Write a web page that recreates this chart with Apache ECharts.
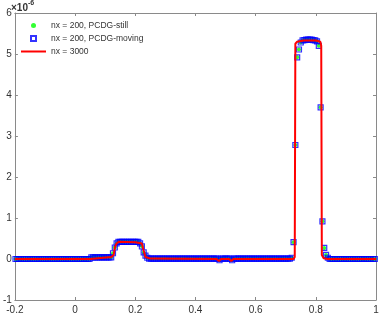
<!DOCTYPE html>
<html>
<head>
<meta charset="utf-8">
<script src="https://cdn.jsdelivr.net/npm/echarts@6/dist/echarts.min.js"></script>
<style>
  html, body { margin: 0; padding: 0; background: #fff; }
  #main { width: 382px; height: 315px; }
</style>
</head>
<body>
<div id="main"></div>
<script>
// nx = 200 mesh (cell centres) and solution values, in units of 1e-6
var meshStart = -0.198;
var meshStep = 0.006;
var pcdgMoving = [
  0, 0, 0, 0, 0, 0, 0, 0, 0, 0,
  0, 0, 0, 0, 0, 0, 0, 0, 0, 0,
  0, 0, 0, 0, 0, 0, 0, 0, 0, 0,
  0, 0, 0, 0, 0, 0, 0, 0, 0, 0,
  0, 0, 0.04, 0.04, 0.04, 0.04, 0.04, 0.04, 0.04, 0.04,
  0.04, 0.04, 0.04, 0.04, 0.14, 0.28, 0.38, 0.42, 0.42, 0.42,
  0.42, 0.42, 0.42, 0.42, 0.42, 0.42, 0.42, 0.42, 0.42, 0.38,
  0.31, 0.16, 0.08, 0.03, 0.01, 0.01, 0.01, 0.01, 0.01, 0.01,
  0.01, 0.01, 0.01, 0.01, 0.01, 0.01, 0.01, 0.01, 0.01, 0.01,
  0.01, 0.01, 0.01, 0.01, 0.01, 0.01, 0.01, 0.01, 0.01, 0.01,
  0.01, 0.01, 0.01, 0.01, 0.01, 0.01, 0.01, 0.01, 0.01, 0.01,
  0.01, 0.01, 0.01, -0.03, 0.01, 0.01, 0.01, 0.01, 0.01, 0.01,
  -0.03, 0.01, 0.01, 0.01, 0.01, 0.01, 0.01, 0.01, 0.01, 0.01,
  0.01, 0.01, 0.01, 0.01, 0.01, 0.01, 0.01, 0.01, 0.01, 0.01,
  0.01, 0.01, 0.01, 0.01, 0.01, 0.01, 0.01, 0.01, 0.01, 0.01,
  0.01, 0.01, 0.01, 0.03, 0.41, 2.78, 4.92, 5.11, 5.28, 5.33,
  5.34, 5.35, 5.35, 5.35, 5.35, 5.34, 5.33, 5.31, 5.2, 3.7,
  0.92, 0.27, 0.1, 0.03, 0, 0, 0, 0, 0, 0,
  0, 0, 0, 0, 0, 0, 0, 0, 0, 0,
  0, 0, 0, 0, 0, 0, 0, 0, 0, 0
];
// the still-mesh run lies on top of the moving one
var pcdgStill = pcdgMoving.slice();

// nx = 3000 reference curve, read as break points
var refX = [-0.2, 0.05, 0.055, 0.12, 0.128, 0.133, 0.138, 0.145, 0.2, 0.222, 0.228, 0.234, 0.25,
            0.47, 0.478, 0.485, 0.512, 0.519, 0.526, 0.726, 0.730, 0.732, 0.738, 0.76, 0.8,
            0.815, 0.818, 0.820, 0.826, 0.84, 1];
var refY = [0, 0, 0.04, 0.05, 0.1, 0.3, 0.38, 0.42, 0.41, 0.38, 0.2, 0.05, 0.01,
            0, -0.05, 0, 0, -0.05, 0, 0, 0.05, 5.25, 5.3, 5.33, 5.33,
            5.3, 5.2, 0.1, 0.02, 0, 0];

var xTicks = { min: -0.2, max: 1, step: 0.2 };
var yTicks = { min: -1, max: 6, step: 1 };
var legendNames = ['nx = 200, PCDG-still', 'nx = 200, PCDG-moving', 'nx = 3000'];

function meshPoints(vals) {
  return vals.map(function (v, i) {
    return [+(meshStart + i * meshStep).toFixed(4), v];
  });
}

var chart = echarts.init(document.getElementById('main'), null, { renderer: 'canvas' });

var axisColor = '#8a8a8a';
var textColor = '#333';
var font = 'Liberation Sans, Arial, Helvetica, sans-serif';

function frameAxis(pos, t, showLabel) {
  return {
    type: 'value',
    position: pos,
    min: t.min,
    max: t.max,
    interval: t.step,
    axisLine: { show: true, onZero: false, lineStyle: { color: axisColor, width: 1 } },
    axisTick: { show: true, inside: true, length: 3, lineStyle: { color: axisColor } },
    splitLine: { show: false },
    axisLabel: {
      show: showLabel,
      color: textColor,
      fontSize: 10,
      fontFamily: font,
      margin: (pos === 'bottom') ? 5 : 3
    }
  };
}

var option = {
  animation: false,
  backgroundColor: '#fff',
  grid: { left: 12, right: 6, top: 13, bottom: 15, containLabel: false },
  title: {
    text: '{a|×10}{b|-6}',
    left: 11,
    top: 0,
    padding: 0,
    textStyle: {
      rich: {
        a: { fontSize: 10, color: textColor, fontFamily: font, padding: [3, 0, 0, 0] },
        b: { fontSize: 7, color: textColor, fontFamily: font, verticalAlign: 'top' }
      }
    }
  },
  legend: {
    orient: 'vertical',
    left: 21,
    top: 21,
    padding: 0,
    itemWidth: 25,
    itemHeight: 5,
    itemGap: 4,
    symbolKeepAspect: true,
    textStyle: { fontSize: 8.5, color: textColor, fontFamily: font },
    data: [
      { name: legendNames[0], icon: 'circle' },
      { name: legendNames[1], icon: 'path://M0,0H10V10H0Z' },
      { name: legendNames[2], icon: 'path://M0,0H25V2H0Z' }
    ]
  },
  xAxis: [frameAxis('bottom', xTicks, true), frameAxis('top', xTicks, false)],
  yAxis: [frameAxis('left', yTicks, true), frameAxis('right', yTicks, false)],
  series: [
    {
      name: legendNames[0],
      type: 'scatter',
      symbol: 'circle',
      symbolSize: 4,
      itemStyle: { color: '#00ff00' },
      data: meshPoints(pcdgStill)
    },
    {
      name: legendNames[1],
      type: 'scatter',
      symbol: 'rect',
      symbolSize: 5,
      itemStyle: { color: 'rgba(0,0,0,0)', borderColor: '#0000ff', borderWidth: 1.2 },
      data: meshPoints(pcdgMoving)
    },
    {
      name: legendNames[2],
      type: 'line',
      showSymbol: false,
      symbol: 'none',
      lineStyle: { color: '#ff0000', width: 2 },
      itemStyle: { color: '#ff0000' },
      data: refX.map(function (x, i) { return [x, refY[i]]; })
    }
  ]
};

chart.setOption(option);
</script>
</body>
</html>
